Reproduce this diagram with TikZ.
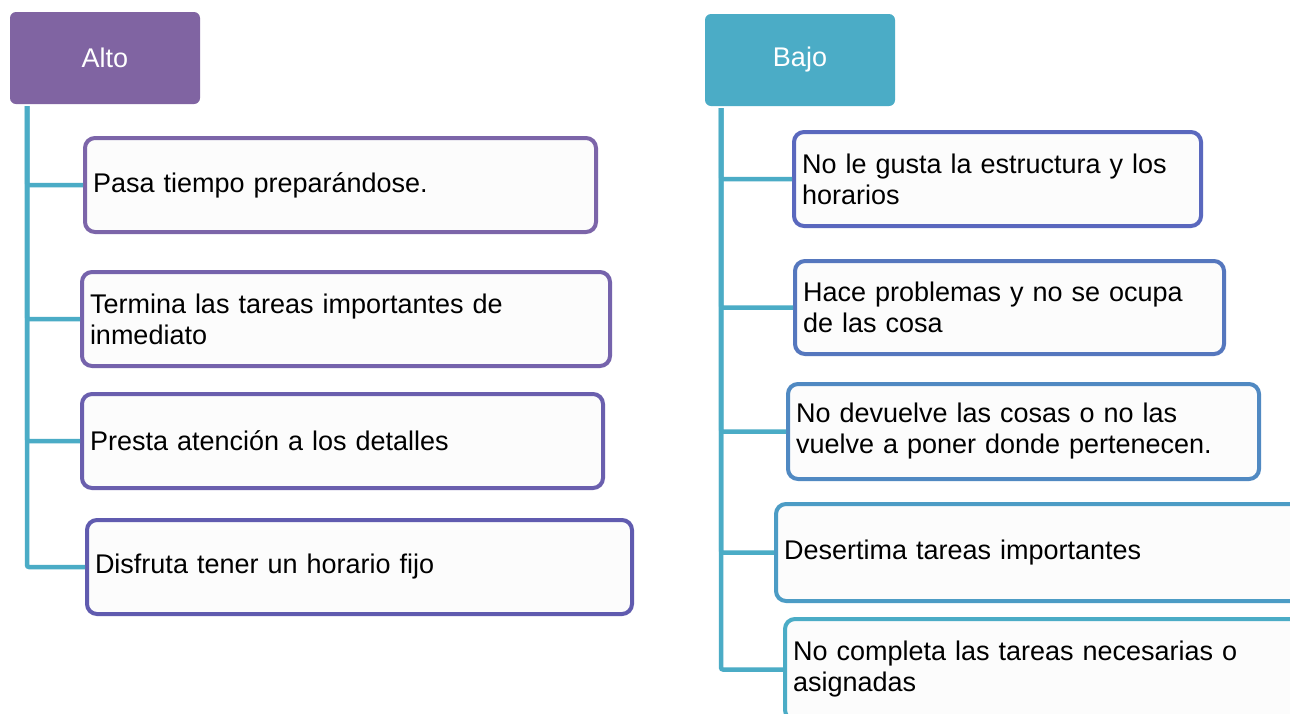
\documentclass[tikz,border=0pt]{standalone}
\usepackage{fontspec}
\setmainfont{Liberation Sans}
\definecolor{purp}{HTML}{8064A2}
\definecolor{teal}{HTML}{4BACC6}
\definecolor{bl1}{HTML}{7C65A9}
\definecolor{bl2}{HTML}{7563AC}
\definecolor{bl3}{HTML}{6A5FAE}
\definecolor{bl4}{HTML}{605BAF}
\definecolor{br1}{HTML}{5A68BE}
\definecolor{br2}{HTML}{5577BE}
\definecolor{br3}{HTML}{5089C2}
\definecolor{br4}{HTML}{4C9CC5}
\definecolor{br5}{HTML}{4BACC6}
\definecolor{boxfill}{HTML}{FCFCFC}
\begin{document}
\begin{tikzpicture}[x=1pt,y=-1pt,
  every node/.style={font=\fontsize{27}{31}\selectfont},
  head/.style={rectangle, rounded corners=6pt, fill=#1, text=white, minimum width=190pt, minimum height=92pt, anchor=north west, inner sep=0pt, outer sep=0pt},
  item/.style={rectangle, rounded corners=10pt, line width=4pt, fill=boxfill, align=left, anchor=north west, inner xsep=8pt, inner ysep=0pt, text=black},
  conn/.style={draw=teal, line width=4.5pt, rounded corners=2pt}]
\useasboundingbox (0,0) rectangle (1290,713);
\fill[white] (0,0) rectangle (1290,713);

% headers
\node[head=purp] (alto) at (10,12) {Alto};
\node[head=teal] (bajo) at (705,14) {Bajo};

% left items
\node[item, draw=bl1, text width=495pt, minimum height=94pt] (l1) at (83,136) {Pasa tiempo preparándose.};
\node[item, draw=bl2, text width=512pt, minimum height=94pt] (l2) at (80,270) {Termina las tareas importantes de\\inmediato};
\node[item, draw=bl3, text width=505pt, minimum height=94pt] (l3) at (80,392) {Presta atención a los detalles};
\node[item, draw=bl4, text width=529pt, minimum height=94pt] (l4) at (85,518) {Disfruta tener un horario fijo};

% right items
\node[item, draw=br1, text width=391pt, minimum height=94pt] (r1) at (792,130) {No le gusta la estructura y los\\horarios};
\node[item, draw=br2, text width=413pt, minimum height=93pt] (r2) at (793,259) {Hace problemas y no se ocupa\\de las cosa};
\node[item, draw=br3, text width=455pt, minimum height=95pt] (r3) at (786,382) {No devuelve las cosas o no las\\vuelve a poner donde pertenecen.};
\node[item, draw=br4, text width=530pt, minimum height=97pt] (r4) at (774,502) {Desertima tareas importantes};
\node[item, draw=br5, text width=530pt, minimum height=101pt] (r5) at (783,617) {No completa las tareas necesarias o\\asignadas};

% connectors
\coordinate (ltop) at ([xshift=17pt,yshift=-2pt]alto.south west);
\coordinate (rtop) at ([xshift=16pt,yshift=-2pt]bajo.south west);
\foreach \n in {l1,l2,l3,l4} \draw[conn] (ltop) |- (\n.west);
\foreach \n in {r1,r2,r3,r4,r5} \draw[conn] (rtop) |- (\n.west);
\end{tikzpicture}
\end{document}
